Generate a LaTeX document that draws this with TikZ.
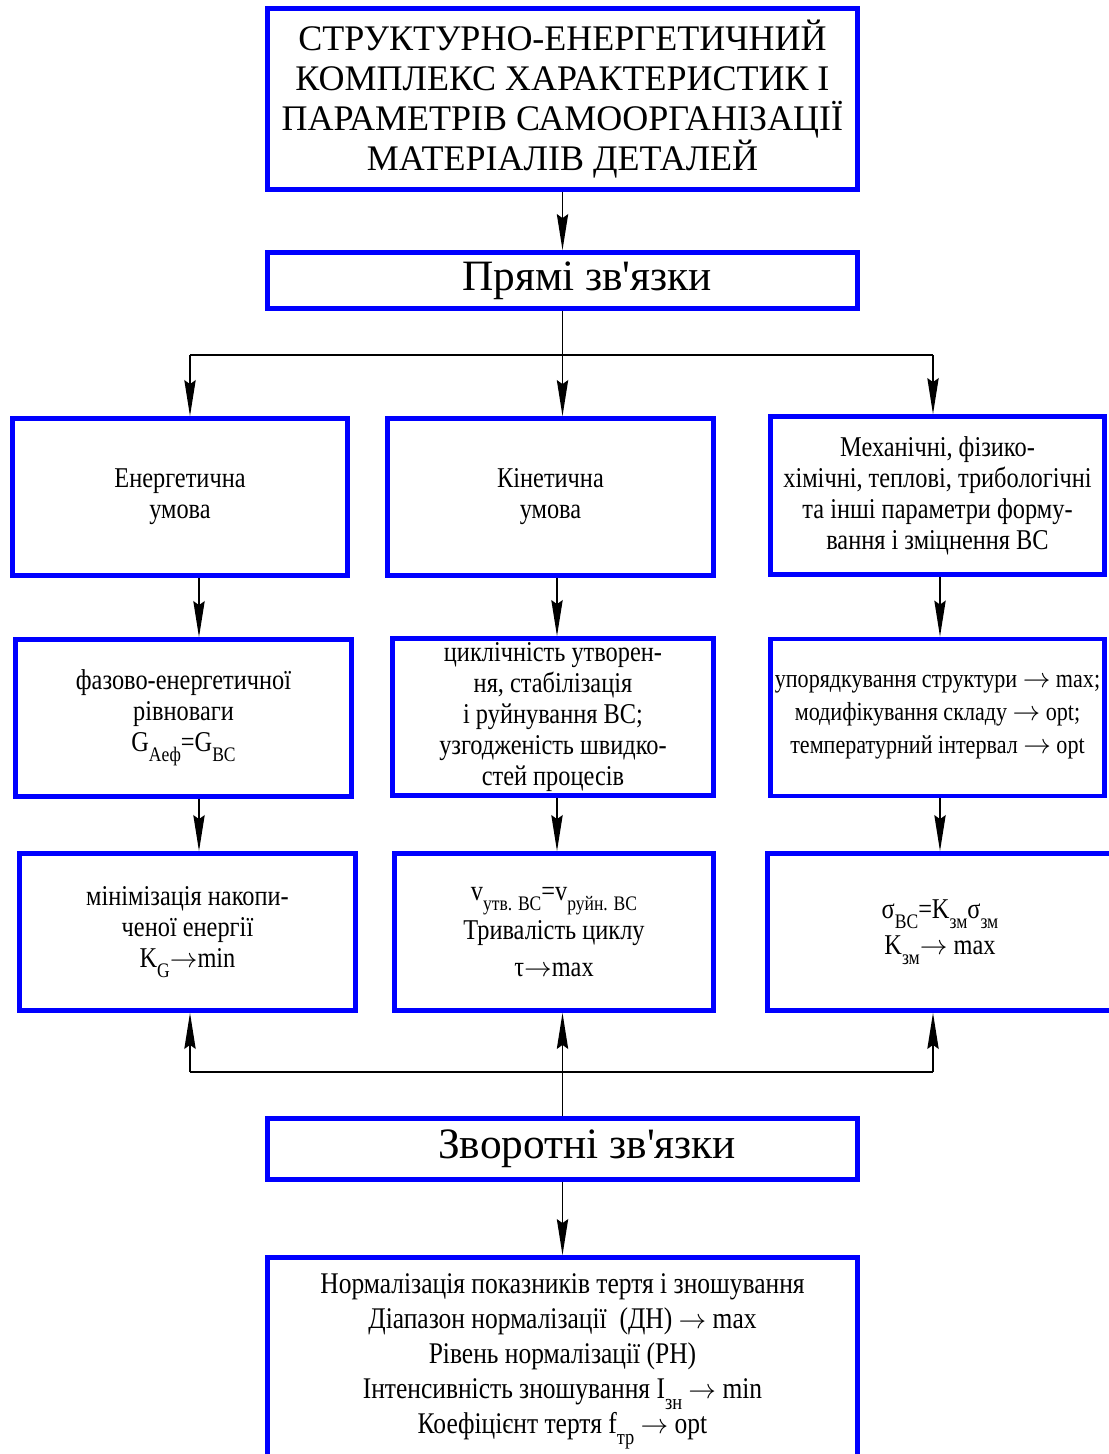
\documentclass[tikz,border=0pt]{standalone}
\usepackage{fontspec}
\usepackage{graphicx}
\setmainfont{Liberation Serif}[FakeStretch=0.85]
\newfontfamily\headfont{Liberation Serif}
\usepackage{tikz}
\usetikzlibrary{arrows.meta,calc}

% lowered index as in the scheme
\newcommand{\idx}[1]{\raisebox{-0.35em}{\scalebox{0.72}{#1}}}
\newcommand{\goes}{\ensuremath{\rightarrow}}

\begin{document}
\begin{tikzpicture}[
    x=0.75pt, y=-0.75pt,
    box/.style={draw=blue, line width=3.6pt, fill=white, align=center, inner sep=2pt},
    headbox/.style={box, minimum width=442.5pt},
    cell/.style={box, minimum height=117.75pt, font=\fontsize{21.5}{23.25}\selectfont},
    arrow/.style={-{Stealth[length=27pt, width=8.5pt, inset=3pt]}, line width=1.1pt},
    link/.style={line width=1.1pt}
]
\useasboundingbox (0,0) rectangle (1109,1454);
\clip (0,0) rectangle (1109,1454);

% Title
\node[headbox, minimum height=135.75pt, font=\headfont\fontsize{27}{30}\selectfont] (title) at (562.5,99)
    {СТРУКТУРНО-ЕНЕРГЕТИЧНИЙ\\КОМПЛЕКС ХАРАКТЕРИСТИК І\\ПАРАМЕТРІВ САМООРГАНІЗАЦІЇ\\МАТЕРІАЛІВ ДЕТАЛЕЙ};

% Direct links
\node[headbox, minimum height=42pt, font=\headfont\fontsize{32.5}{36}\selectfont] (direct) at (562.5,280.5)
    {\hspace*{37pt}Прямі зв\textquotesingle язки};

% Row 1: conditions
\node[cell, minimum width=251.25pt] (energ) at (180,497) {Енергетична\\умова};
\node[cell, minimum width=244.5pt] (kin) at (550.5,497) {Кінетична\\умова};
\node[cell, minimum width=250.5pt, minimum height=118.5pt] (mech) at (937.5,495.5)
    {Механічні, фізико-\\хімічні, теплові, трибологічні\\та інші параметри форму-\\вання і зміцнення ВС};

% Row 2: criteria
\node[cell, minimum width=252pt] (phase) at (183.5,718)
    {фазово-енергетичної\\рівноваги\\G\idx{Aеф}=G\idx{ВС}};
\node[cell, minimum width=240.75pt] (cycle) at (553,717)
    {циклічність утворен-\\ня, стабілізація\\і руйнування ВС;\\узгодженість швидко-\\стей процесів};
\node[cell, minimum width=250.5pt, font=\fontsize{19.5}{24.75}\selectfont] (order) at (937.5,717.5)
    {упорядкування структури \goes{} max;\\модифікування складу \goes{} opt;\\температурний інтервал \goes{} opt};

% Row 3: targets
\node[cell, minimum width=252pt] (minim) at (187.5,932)
    {мінімізація накопи-\\ченої енергії\\K\idx{G}\goes min};
\node[cell, minimum width=239.25pt] (speed) at (554,932)
    {v\idx{утв. ВС}=v\idx{руйн. ВС}\\[3pt]Тривалість циклу\\[4pt]τ\goes max};
\node[cell, minimum width=258.75pt, font=\fontsize{21.5}{25}\selectfont] (stress) at (940,932)
    {σ\idx{ВС}=K\idx{зм}σ\idx{зм}\\[2pt]K\idx{зм}\goes{} max};

% Feedback
\node[headbox, minimum height=45.75pt, font=\headfont\fontsize{32.5}{36}\selectfont] (reverse) at (562.5,1149)
    {\hspace*{37pt}Зворотні зв\textquotesingle язки};

% Normalisation
\node[headbox, minimum height=156pt, font=\fontsize{22.5}{26.25}\selectfont] (norm) at (562.5,1361.5)
    {Нормалізація показників тертя і зношування\\Діапазон нормалізації~~(ДН) \goes{} max\\Рівень нормалізації (РН)\\Інтенсивність зношування I\idx{зн} \goes{} min\\Коефіцієнт тертя f\idx{тр} \goes{} opt};

% Branch points
\coordinate (forkL) at (190,355);
\coordinate (forkR) at (933,355);
\coordinate (backL) at (190,1072);
\coordinate (backR) at (933,1072);
\coordinate (colA) at (199,0);
\coordinate (colB) at (557,0);
\coordinate (colC) at (940,0);

% Arrows
\draw[arrow] (title) -- (direct);
\draw[link] (forkL) -- (forkR);
\draw[arrow] (direct.south) -- (direct.south |- kin.north);
\draw[arrow] (forkL) -- (forkL |- energ.north);
\draw[arrow] (forkR) -- (forkR |- mech.north);
\draw[arrow] (energ.south -| colA) -- (phase.north -| colA);
\draw[arrow] (kin.south -| colB) -- (cycle.north -| colB);
\draw[arrow] (mech.south -| colC) -- (order.north -| colC);
\draw[arrow] (phase.south -| colA) -- (minim.north -| colA);
\draw[arrow] (cycle.south -| colB) -- (speed.north -| colB);
\draw[arrow] (order.south -| colC) -- (stress.north -| colC);
\draw[link] (backL) -- (backR);
\draw[arrow] (reverse.north) -- (reverse.north |- speed.south);
\draw[arrow] (backL) -- (backL |- minim.south);
\draw[arrow] (backR) -- (backR |- stress.south);
\draw[arrow] (reverse) -- (norm);

\end{tikzpicture}
\end{document}
